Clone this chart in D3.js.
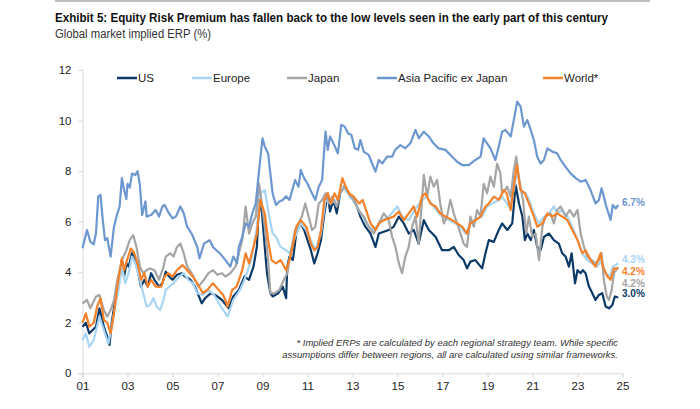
<!DOCTYPE html>
<html>
<head>
<meta charset="utf-8">
<script src="https://cdn.jsdelivr.net/npm/d3@7"></script>
<style>
  body { margin: 0; background: #fff; }
  text { font-family: "Liberation Sans", Arial, sans-serif; }
  .title { font-family: "Liberation Sans Narrow", "Arial Narrow", "Liberation Sans", sans-serif; font-weight: bold; }
</style>
</head>
<body>
<svg id="chart" width="700" height="409"></svg>
<script>
// series values, [year, ERP %]
var us = [[2001.0,1.84],[2001.15,2.0],[2001.3,1.58],[2001.45,1.71],[2001.6,1.84],[2001.75,2.57],[2001.85,2.24],[2001.95,1.84],[2002.1,1.45],[2002.2,1.12],[2002.3,2.0],[2002.45,2.9],[2002.6,3.43],[2002.75,4.48],[2002.85,3.83],[2002.95,4.35],[2003.05,4.22],[2003.2,4.75],[2003.35,4.48],[2003.45,4.08],[2003.6,3.43],[2003.75,3.7],[2003.9,3.43],[2004.05,3.96],[2004.2,3.7],[2004.4,3.43],[2004.55,3.56],[2004.7,4.02],[2004.85,3.83],[2005.0,3.7],[2005.2,3.9],[2005.4,3.96],[2005.55,3.83],[2005.8,3.7],[2006.0,3.43],[2006.3,2.77],[2006.45,2.97],[2006.7,3.17],[2006.9,3.1],[2007.2,2.9],[2007.5,2.57],[2007.7,3.04],[2007.95,3.3],[2008.2,3.83],[2008.4,3.7],[2008.6,4.22],[2008.75,5.0],[2008.85,6.86],[2008.98,6.33],[2009.1,5.0],[2009.2,3.96],[2009.35,3.17],[2009.45,3.04],[2009.7,3.17],[2009.9,3.43],[2010.05,2.97],[2010.1,4.22],[2010.2,4.62],[2010.35,4.48],[2010.5,5.53],[2010.7,5.93],[2010.85,5.67],[2011.0,5.27],[2011.15,4.87],[2011.3,4.35],[2011.45,4.75],[2011.6,5.27],[2011.75,6.33],[2011.9,7.12],[2012.0,6.4],[2012.15,6.86],[2012.3,6.33],[2012.45,7.12],[2012.6,7.38],[2012.75,7.25],[2012.9,6.99],[2013.05,6.86],[2013.2,6.6],[2013.35,6.2],[2013.57,5.8],[2013.8,5.53],[2014.02,5.0],[2014.17,5.53],[2014.39,5.6],[2014.61,5.67],[2014.83,5.8],[2015.06,6.2],[2015.28,5.93],[2015.5,5.53],[2015.72,5.67],[2015.94,5.13],[2016.17,6.06],[2016.39,5.67],[2016.69,5.4],[2016.98,4.87],[2017.28,4.87],[2017.5,5.0],[2017.72,4.68],[2017.94,4.48],[2018.09,4.15],[2018.24,4.42],[2018.46,4.48],[2018.76,4.15],[2018.91,4.75],[2019.06,5.27],[2019.28,5.2],[2019.5,5.67],[2019.65,5.93],[2019.88,5.67],[2020.1,5.93],[2020.25,7.45],[2020.4,6.72],[2020.55,6.2],[2020.66,5.27],[2020.77,5.53],[2020.92,5.27],[2021.06,5.67],[2021.21,5.0],[2021.36,4.87],[2021.51,5.4],[2021.73,5.53],[2021.95,5.27],[2022.17,5.13],[2022.32,4.75],[2022.47,4.62],[2022.62,4.22],[2022.74,4.75],[2022.89,3.56],[2023.0,4.08],[2023.14,3.96],[2023.24,4.08],[2023.36,3.96],[2023.51,3.43],[2023.66,3.17],[2023.8,2.9],[2023.95,3.1],[2024.1,3.17],[2024.25,2.64],[2024.4,2.57],[2024.55,2.7],[2024.66,3.04],[2024.81,3.0]];

var europe = [[2001.0,1.32],[2001.15,1.58],[2001.3,1.05],[2001.5,1.32],[2001.75,2.24],[2001.95,1.71],[2002.15,1.18],[2002.3,1.84],[2002.45,2.64],[2002.6,3.3],[2002.75,4.22],[2002.9,3.56],[2003.05,3.96],[2003.2,4.62],[2003.35,4.35],[2003.55,3.7],[2003.7,3.17],[2003.85,2.64],[2004.0,2.7],[2004.15,2.97],[2004.3,2.64],[2004.45,2.5],[2004.6,2.9],[2004.7,3.3],[2004.85,3.43],[2005.05,3.56],[2005.3,3.83],[2005.5,3.96],[2005.7,3.7],[2005.9,3.56],[2006.1,3.17],[2006.35,3.1],[2006.6,3.3],[2006.85,3.1],[2007.15,2.64],[2007.45,2.24],[2007.7,2.9],[2008.0,3.3],[2008.2,3.7],[2008.5,4.48],[2008.75,5.8],[2008.9,7.12],[2009.1,7.25],[2009.3,6.2],[2009.45,5.53],[2009.6,5.4],[2009.8,5.0],[2010.05,4.87],[2010.2,4.75],[2010.45,5.4],[2010.7,5.93],[2010.95,5.67],[2011.15,5.27],[2011.35,4.87],[2011.6,5.53],[2011.8,6.86],[2012.0,6.72],[2012.3,6.86],[2012.55,7.38],[2012.75,7.18],[2013.0,6.86],[2013.3,6.46],[2013.55,6.0],[2013.87,5.67],[2014.09,5.8],[2014.32,6.06],[2014.61,6.2],[2015.0,6.6],[2015.2,6.2],[2015.5,6.06],[2015.8,6.52],[2016.1,6.86],[2016.3,6.99],[2016.6,6.6],[2016.9,6.26],[2017.28,6.06],[2017.57,5.93],[2017.8,5.8],[2018.02,5.53],[2018.24,5.93],[2018.46,6.06],[2018.76,6.2],[2018.98,6.6],[2019.2,6.72],[2019.5,6.86],[2019.65,6.99],[2019.95,6.6],[2020.17,7.25],[2020.32,8.05],[2020.5,7.25],[2020.7,7.12],[2020.85,6.86],[2021.06,6.33],[2021.29,5.93],[2021.51,6.2],[2021.73,6.33],[2021.95,6.6],[2022.1,6.33],[2022.32,6.46],[2022.55,6.2],[2022.77,5.8],[2023.0,5.27],[2023.21,4.75],[2023.43,4.48],[2023.66,4.35],[2023.88,4.22],[2024.07,4.48],[2024.25,3.96],[2024.43,3.83],[2024.57,4.22],[2024.81,4.35]];

var japan = [[2001.0,2.77],[2001.2,2.9],[2001.35,2.57],[2001.6,3.04],[2001.75,3.1],[2001.95,2.5],[2002.1,2.24],[2002.25,2.5],[2002.4,2.9],[2002.55,3.7],[2002.75,4.48],[2002.95,4.87],[2003.1,5.27],[2003.25,5.47],[2003.4,5.0],[2003.55,4.22],[2003.7,3.96],[2003.85,4.08],[2004.0,4.15],[2004.2,4.08],[2004.4,3.7],[2004.6,4.22],[2004.7,4.62],[2004.9,4.75],[2005.05,4.62],[2005.2,5.0],[2005.35,5.13],[2005.5,4.75],[2005.65,4.22],[2005.85,3.96],[2006.0,3.7],[2006.15,3.43],[2006.4,3.7],[2006.6,3.96],[2006.8,4.08],[2007.0,3.9],[2007.2,3.96],[2007.35,3.83],[2007.57,3.96],[2007.8,4.22],[2007.95,4.75],[2008.1,5.27],[2008.25,6.6],[2008.4,5.53],[2008.55,5.93],[2008.7,6.2],[2008.85,7.5],[2008.95,6.86],[2009.1,5.8],[2009.25,4.48],[2009.35,3.17],[2009.55,3.17],[2009.75,3.3],[2009.95,3.7],[2010.1,3.96],[2010.25,4.75],[2010.45,5.67],[2010.6,5.93],[2010.75,6.2],[2010.9,6.72],[2011.05,6.2],[2011.2,5.67],[2011.35,5.8],[2011.5,6.72],[2011.65,6.86],[2011.8,7.12],[2011.95,6.72],[2012.1,6.99],[2012.3,6.6],[2012.45,7.12],[2012.65,7.38],[2012.85,7.12],[2013.05,6.86],[2013.3,6.4],[2013.5,6.2],[2013.72,5.8],[2013.95,5.53],[2014.17,5.93],[2014.39,6.33],[2014.61,6.06],[2014.76,5.4],[2014.91,5.0],[2015.06,4.35],[2015.2,3.96],[2015.35,4.62],[2015.5,5.0],[2015.65,5.8],[2015.8,6.2],[2015.94,5.13],[2016.09,6.86],[2016.17,7.85],[2016.32,6.99],[2016.46,7.78],[2016.61,7.38],[2016.76,7.65],[2016.9,6.72],[2017.06,5.93],[2017.2,6.2],[2017.35,6.86],[2017.5,6.33],[2017.65,5.93],[2017.8,5.53],[2017.94,5.13],[2018.09,5.0],[2018.24,6.2],[2018.39,5.8],[2018.54,6.46],[2018.69,6.2],[2018.83,7.5],[2018.98,7.12],[2019.13,7.78],[2019.28,7.38],[2019.43,8.3],[2019.57,7.92],[2019.65,7.12],[2019.88,7.38],[2020.03,6.99],[2020.17,8.05],[2020.28,8.57],[2020.43,7.5],[2020.58,6.86],[2020.72,5.53],[2020.84,6.2],[2020.99,5.4],[2021.14,5.53],[2021.29,4.48],[2021.44,5.8],[2021.58,6.2],[2021.8,6.33],[2021.95,5.93],[2022.1,6.46],[2022.25,6.6],[2022.47,6.2],[2022.65,6.46],[2022.84,6.2],[2023.0,6.46],[2023.14,5.53],[2023.29,5.0],[2023.43,4.62],[2023.63,4.48],[2023.8,4.35],[2023.95,4.48],[2024.07,4.75],[2024.17,3.7],[2024.3,3.04],[2024.4,2.9],[2024.52,3.3],[2024.62,3.96],[2024.81,4.2]];

var apxj = [[2001.0,4.95],[2001.2,5.67],[2001.35,5.2],[2001.5,5.1],[2001.6,5.55],[2001.7,6.99],[2001.8,7.06],[2001.9,6.07],[2002.0,5.27],[2002.1,5.35],[2002.25,4.62],[2002.4,5.8],[2002.55,6.33],[2002.65,6.6],[2002.75,7.72],[2002.85,7.25],[2002.95,6.9],[2003.0,7.5],[2003.1,7.35],[2003.2,7.9],[2003.35,7.85],[2003.45,8.0],[2003.55,7.45],[2003.65,6.26],[2003.8,6.8],[2003.85,6.2],[2004.05,6.26],[2004.25,6.46],[2004.4,6.2],[2004.55,6.6],[2004.65,6.66],[2004.8,6.4],[2005.0,6.13],[2005.15,6.2],[2005.35,6.6],[2005.5,6.33],[2005.65,5.8],[2005.85,5.53],[2006.1,5.0],[2006.2,4.55],[2006.4,5.13],[2006.65,5.27],[2006.8,5.0],[2006.95,4.87],[2007.15,4.7],[2007.35,4.48],[2007.57,4.22],[2007.7,4.62],[2007.87,4.35],[2007.95,5.0],[2008.1,5.4],[2008.25,5.93],[2008.4,5.8],[2008.55,6.33],[2008.7,6.72],[2008.85,8.05],[2009.0,9.3],[2009.1,8.97],[2009.25,8.7],[2009.35,7.9],[2009.45,7.12],[2009.6,6.66],[2009.75,6.8],[2009.9,6.86],[2010.05,7.0],[2010.2,6.86],[2010.45,7.65],[2010.6,7.38],[2010.7,8.05],[2010.85,7.72],[2011.0,7.5],[2011.2,7.12],[2011.35,6.86],[2011.5,7.38],[2011.65,7.65],[2011.8,9.56],[2011.9,8.84],[2012.0,9.37],[2012.15,9.1],[2012.35,8.7],[2012.5,9.83],[2012.65,9.76],[2012.8,9.5],[2012.95,9.43],[2013.1,8.9],[2013.25,8.84],[2013.35,9.23],[2013.5,8.77],[2013.72,8.64],[2013.87,8.3],[2014.02,7.98],[2014.17,8.44],[2014.32,8.3],[2014.54,8.57],[2014.76,8.57],[2014.9,8.84],[2015.13,9.03],[2015.35,8.9],[2015.57,9.1],[2015.8,9.63],[2015.95,9.3],[2016.17,9.56],[2016.39,9.37],[2016.6,9.1],[2016.83,8.9],[2017.13,8.84],[2017.43,8.57],[2017.65,8.37],[2017.87,8.24],[2018.17,8.24],[2018.46,8.44],[2018.69,8.57],[2018.83,9.3],[2018.98,9.1],[2019.13,8.9],[2019.35,8.44],[2019.5,8.97],[2019.65,9.56],[2019.8,9.63],[2020.03,9.37],[2020.17,10.02],[2020.32,10.75],[2020.47,10.55],[2020.62,9.76],[2020.77,10.02],[2020.92,9.63],[2021.06,9.23],[2021.21,8.57],[2021.36,8.3],[2021.51,8.44],[2021.66,8.9],[2021.88,8.77],[2022.1,8.7],[2022.25,8.44],[2022.47,8.17],[2022.7,7.9],[2022.92,7.72],[2023.14,7.58],[2023.36,7.65],[2023.58,7.25],[2023.8,6.72],[2023.95,6.86],[2024.07,7.32],[2024.17,6.99],[2024.28,6.6],[2024.47,6.07],[2024.57,6.66],[2024.7,6.52],[2024.81,6.66]];

var world = [[2001.0,2.0],[2001.15,2.37],[2001.3,1.84],[2001.5,2.0],[2001.65,2.64],[2001.8,2.97],[2001.95,2.11],[2002.1,2.0],[2002.25,1.58],[2002.4,2.37],[2002.55,3.43],[2002.75,4.55],[2002.85,4.08],[2002.98,4.48],[2003.15,4.94],[2003.3,4.75],[2003.45,4.35],[2003.6,3.7],[2003.75,3.96],[2003.9,3.43],[2004.05,3.7],[2004.25,3.43],[2004.5,3.43],[2004.65,3.83],[2004.8,3.96],[2005.0,3.83],[2005.2,4.08],[2005.45,4.28],[2005.65,4.08],[2005.9,3.83],[2006.1,3.56],[2006.35,3.17],[2006.55,3.3],[2006.8,3.56],[2007.05,3.3],[2007.25,3.1],[2007.35,2.9],[2007.45,2.64],[2007.65,3.3],[2007.85,3.43],[2008.1,4.08],[2008.25,4.75],[2008.4,4.35],[2008.6,5.0],[2008.75,5.53],[2008.9,6.86],[2009.0,6.6],[2009.1,6.33],[2009.25,5.27],[2009.4,4.48],[2009.6,4.35],[2009.8,4.48],[2010.05,4.08],[2010.2,4.48],[2010.4,5.27],[2010.5,5.8],[2010.7,6.06],[2010.95,5.8],[2011.15,5.13],[2011.3,4.87],[2011.45,5.0],[2011.6,5.67],[2011.75,6.86],[2011.9,7.12],[2012.05,6.72],[2012.2,7.12],[2012.35,6.86],[2012.55,7.72],[2012.7,7.38],[2012.85,7.12],[2013.05,6.99],[2013.3,6.72],[2013.45,6.86],[2013.65,6.33],[2013.8,5.93],[2014.02,5.67],[2014.17,5.93],[2014.39,6.06],[2014.61,6.13],[2014.83,6.2],[2015.06,6.4],[2015.28,6.06],[2015.5,6.33],[2015.72,6.6],[2015.87,6.2],[2016.09,6.99],[2016.24,7.12],[2016.46,6.72],[2016.69,6.6],[2016.9,6.33],[2017.13,6.2],[2017.43,6.06],[2017.65,5.93],[2017.87,5.8],[2018.09,5.53],[2018.24,5.93],[2018.46,6.06],[2018.69,6.2],[2018.91,6.6],[2019.06,6.72],[2019.28,6.99],[2019.5,6.86],[2019.72,7.25],[2019.85,7.12],[2020.03,6.46],[2020.17,7.38],[2020.3,8.24],[2020.47,7.25],[2020.66,7.12],[2020.84,6.72],[2021.06,6.2],[2021.21,5.8],[2021.44,5.93],[2021.66,6.33],[2021.88,6.2],[2022.1,6.33],[2022.32,6.2],[2022.55,6.06],[2022.77,5.67],[2023.0,5.27],[2023.21,4.75],[2023.36,4.87],[2023.58,4.48],[2023.8,4.22],[2024.03,4.75],[2024.13,4.22],[2024.33,3.83],[2024.47,3.7],[2024.62,4.15],[2024.81,4.15]];

var seriesNames = ["US", "Europe", "Japan", "Asia Pacific ex Japan", "World*"];
var seriesValues = [us, europe, japan, apxj, world];
var endLabels = ["3.0%", "4.3%", "4.2%", "6.7%", "4.2%"];
var yTicks = [0, 2, 4, 6, 8, 10, 12];
var xTicks = [2001, 2003, 2005, 2007, 2009, 2011, 2013, 2015, 2017, 2019, 2021, 2023, 2025];

var colors = ["#0b3a68", "#a9d5f5", "#a5a5a5", "#6d97cf", "#f5822a"];
// pixel nudges so the end labels don't collide
var labelNudge = [-4, -4, 16, -3, 3];
var legendX = [117, 192, 287, 377, 543];

var svg = d3.select("#chart");

var x = d3.scaleLinear().domain([2001, 2025]).range([82.5, 622.5]);
var y = d3.scaleLinear().domain([0, 12]).range([373.3, 70]);

// header
svg.append("line").attr("x1", 55).attr("x2", 650).attr("y1", 1).attr("y2", 1)
  .attr("stroke", "#bdbdbd").attr("stroke-width", 2);
svg.append("text").attr("class", "title")
  .attr("x", 55).attr("y", 22)
  .attr("font-size", 13).attr("fill", "#111")
  .attr("textLength", 553).attr("lengthAdjust", "spacingAndGlyphs")
  .text("Exhibit 5: Equity Risk Premium has fallen back to the low levels seen in the early part of this century");
svg.append("text").attr("class", "title")
  .attr("x", 55).attr("y", 38)
  .attr("font-size", 12).style("font-weight", "normal")
  .attr("fill", "#333")
  .attr("textLength", 156).attr("lengthAdjust", "spacingAndGlyphs")
  .text("Global market implied ERP (%)");

// axes
var yAxis = d3.axisLeft(y).tickValues(yTicks).tickSize(4).tickPadding(7);
var gy = svg.append("g").attr("transform", "translate(82.5,0)").call(yAxis);
var xAxis = d3.axisBottom(x).tickValues(xTicks).tickSize(4).tickPadding(5)
  .tickFormat(function(d) { return String(d % 100).padStart(2, "0"); });
var gx = svg.append("g").attr("transform", "translate(0,373.3)").call(xAxis);
[gx, gy].forEach(function(g) {
  g.select(".domain").attr("stroke", "#d9d9d9");
  g.selectAll(".tick line").attr("stroke", "#d9d9d9");
  g.selectAll(".tick text").attr("font-size", 11.5).attr("fill", "#222")
    .attr("font-family", "'Liberation Sans', Arial, sans-serif");
});

// lines
var line = d3.line().x(function(d) { return x(d[0]); }).y(function(d) { return y(d[1]); });
svg.append("g").selectAll("path")
  .data(seriesValues)
  .enter().append("path")
    .attr("d", line)
    .attr("fill", "none")
    .attr("stroke", function(d, i) { return colors[i]; })
    .attr("stroke-width", 2.2)
    .attr("stroke-linejoin", "round");

// end labels
svg.append("g").selectAll("text")
  .data(seriesValues)
  .enter().append("text")
    .attr("x", 622)
    .attr("y", function(d, i) { return y(d[d.length - 1][1]) + labelNudge[i] + 4; })
    .attr("font-size", 10).attr("font-weight", "bold")
    .attr("fill", function(d, i) { return colors[i]; })
    .text(function(d, i) { return endLabels[i]; });

// legend
var leg = svg.append("g").selectAll("g")
  .data(seriesNames)
  .enter().append("g")
    .attr("transform", function(d, i) { return "translate(" + legendX[i] + ",78)"; });
leg.append("line").attr("x1", 0).attr("x2", 20).attr("y1", 0).attr("y2", 0)
  .attr("stroke", function(d, i) { return colors[i]; }).attr("stroke-width", 2.5);
leg.append("text").attr("x", 21).attr("y", 4).attr("font-size", 11.5).attr("fill", "#222")
  .text(function(d) { return d; });

// footnote
var notes = ["* Implied ERPs are calculated by each regional strategy team. While specific",
             "assumptions differ between regions, all are calculated using similar frameworks."];
svg.append("g").selectAll("text")
  .data(notes)
  .enter().append("text")
    .attr("x", 618).attr("y", function(d, i) { return 346 + i * 12; })
    .attr("text-anchor", "end")
    .attr("font-size", 9.5).attr("font-style", "italic").attr("fill", "#333")
    .text(function(d) { return d; });
</script>
</body>
</html>
